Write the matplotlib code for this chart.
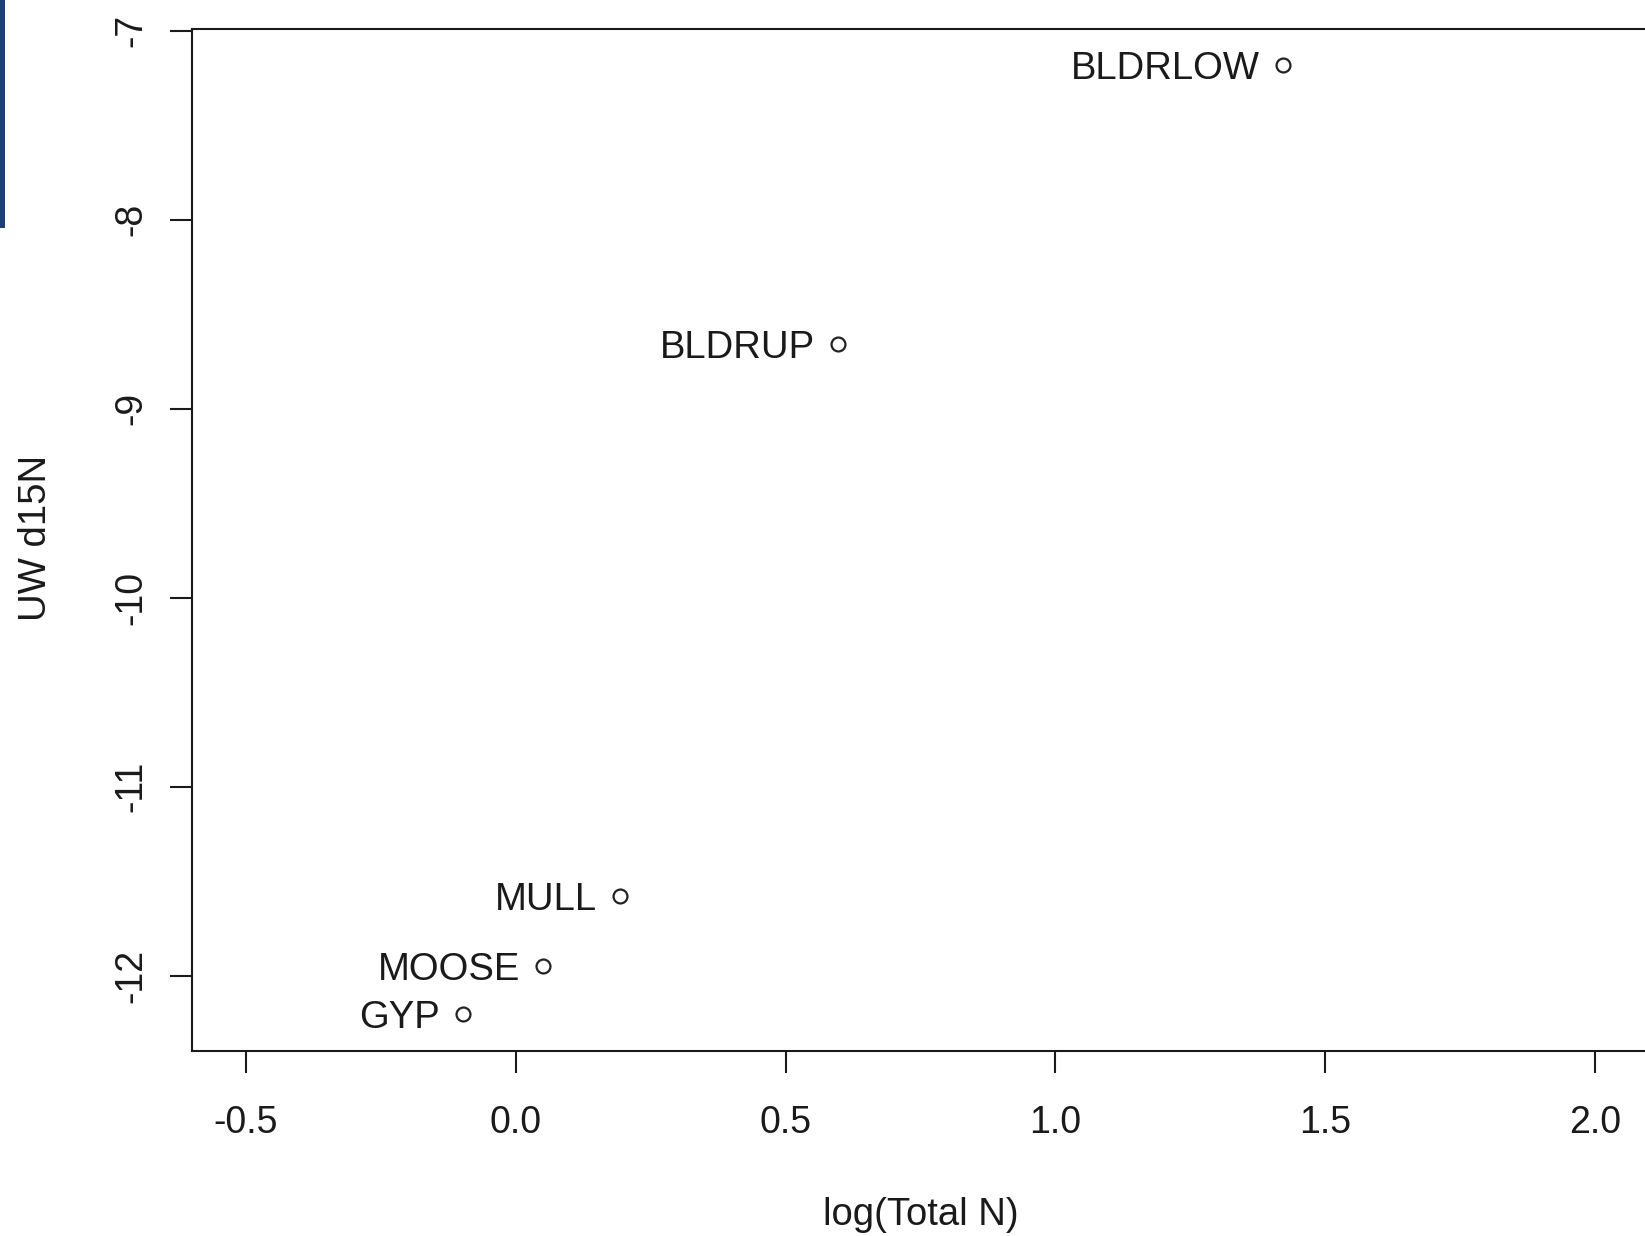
import matplotlib
matplotlib.use("Agg")
import matplotlib.pyplot as plt
from matplotlib.patches import Rectangle

sites = ["BLDRLOW", "BLDRUP", "MULL", "MOOSE", "GYP"]
log_total_n = [1.422, 0.598, 0.193, 0.051, -0.098]
uw_d15n = [-7.18, -8.655, -11.578, -11.95, -12.20]
xticks = [-0.5, 0.0, 0.5, 1.0, 1.5, 2.0]
yticks = [-7, -8, -9, -10, -11, -12]

plt.rcParams['font.family'] = ['Liberation Sans', 'DejaVu Sans']

W, H = 1645, 1236
fig = plt.figure(figsize=(W / 100, H / 100), dpi=100)
fig.patch.set_facecolor('white')

# box spans px 192..1649 horizontally, 29..1051 vertically
ax = fig.add_axes([192 / W, (H - 1051) / H, (1649 - 192) / W, (1051 - 29) / H])
ax.set_xlim(-0.6, 2.1)
ax.set_ylim(-12.398, -6.99)

ax.plot(log_total_n, uw_d15n, linestyle='none', marker='o', markersize=10,
        markerfacecolor='none', markeredgecolor='#222222', markeredgewidth=1.6,
        clip_on=False)

for s, x, y in zip(sites, log_total_n, uw_d15n):
    ax.annotate(s, (x, y), xytext=(-23, -14), textcoords='offset pixels',
                ha='right', va='baseline', fontsize=27.5, color='#1a1a1a')

for side in ['left', 'top', 'bottom', 'right']:
    ax.spines[side].set_linewidth(1.5)
    ax.spines[side].set_color('#1a1a1a')

ax.set_xticks(xticks)
ax.set_xticklabels([f"{t:.1f}" for t in xticks])
ax.set_yticks(yticks)
ax.set_yticklabels([str(t) for t in yticks], rotation=90, va='center')
ax.tick_params(axis='both', length=16, width=1.5, color='#1a1a1a',
               labelsize=27, labelcolor='#1a1a1a')
ax.tick_params(axis='x', pad=23)
ax.tick_params(axis='y', pad=15)

ax.set_xlabel("log(Total N)", fontsize=27.5, color='#1a1a1a', va='center')
ax.set_ylabel("UW d15N", fontsize=27.5, color='#1a1a1a', va='center')
ax.xaxis.set_label_coords(0.5, (1051 - 1215) / 1022)
ax.yaxis.set_label_coords((36 - 192) / 1457, (1051 - 538) / 1022)

# screenshot artifact: dark blue strip at left edge
fig.patches.append(Rectangle((0, 1 - 228 / H), 5 / W, 228 / H,
                             transform=fig.transFigure, facecolor='#1a3f7c',
                             edgecolor='none'))

fig.savefig("out.png", dpi=100)
